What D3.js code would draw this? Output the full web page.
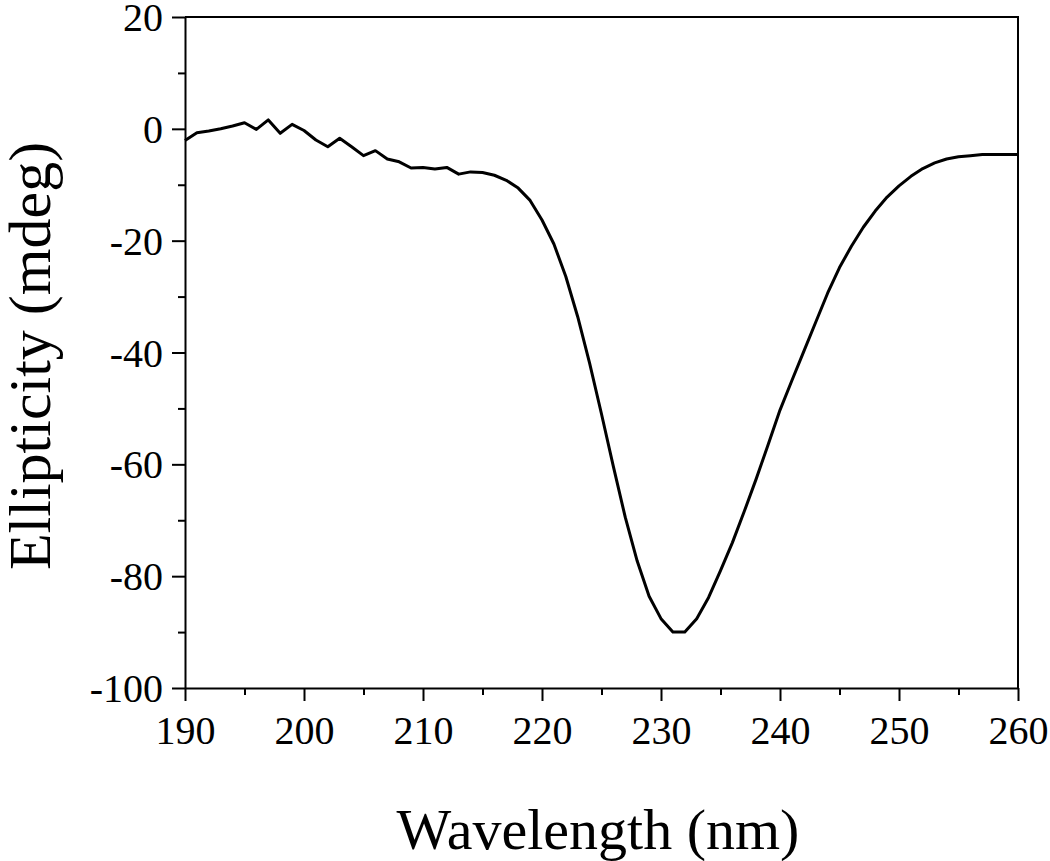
<!DOCTYPE html>
<html>
<head>
<meta charset="utf-8">
<script src="https://cdn.jsdelivr.net/npm/d3@7"></script>
<style>
  body { margin: 0; background: #fff; }
  svg text { font-family: "Liberation Serif", "Times New Roman", serif; fill: #000; }
</style>
</head>
<body>
<div id="chartHolder"></div>
<script>
// CD spectrum (1 nm steps)
const wavelength = [
  190, 191, 192, 193, 194, 195, 196, 197, 198, 199,
  200, 201, 202, 203, 204, 205, 206, 207, 208, 209,
  210, 211, 212, 213, 214, 215, 216, 217, 218, 219,
  220, 221, 222, 223, 224, 225, 226, 227, 228, 229,
  230, 231, 232, 233, 234, 235, 236, 237, 238, 239,
  240, 241, 242, 243, 244, 245, 246, 247, 248, 249,
  250, 251, 252, 253, 254, 255, 256, 257, 258, 259, 260
];
const ellipticity = [
  -2.1, -0.7, -0.4, 0.0, 0.5, 1.1, -0.1, 1.6, -0.8, 0.8,
  -0.3, -2.0, -3.2, -1.7, -3.2, -4.8, -3.9, -5.4, -5.9, -7.0,
  -6.9, -7.2, -6.9, -8.1, -7.7, -7.8, -8.3, -9.2, -10.6, -12.8,
  -16.3, -20.6, -26.4, -33.6, -41.9, -51.0, -60.4, -69.5, -77.3, -83.6,
  -87.6, -90.0, -90.0, -87.6, -83.8, -79.0, -74.0, -68.4, -62.6, -56.5,
  -50.3, -45.0, -39.8, -34.6, -29.4, -24.8, -21.0, -17.6, -14.7, -12.2,
  -10.2, -8.5, -7.1, -6.1, -5.4, -5.0, -4.8, -4.6, -4.6, -4.6, -4.6
];
const xTicks = [190, 200, 210, 220, 230, 240, 250, 260];
const yTicks = [20, 0, -20, -40, -60, -80, -100];

const data = wavelength.map((w, i) => ({ w: w, v: ellipticity[i] }));

const W = 1050, H = 861;
const padL = 185, padR = 1018, padT = 17, padB = 688;

const x = d3.scaleLinear().domain([190, 260]).range([padL, padR]);
const y = d3.scaleLinear().domain([-100, 20]).range([padB, padT]);

const svg = d3.select("#chartHolder").append("svg")
  .attr("width", W)
  .attr("height", H);

// frame (top + right)
svg.append("path")
  .attr("d", `M${padL},${padT}H${padR}V${padB}`)
  .attr("fill", "none")
  .attr("stroke", "#000")
  .attr("stroke-width", 2);

// minor ticks
const xMinor = d3.range(195, 260, 10);
const yMinor = d3.range(-90, 20, 20);

const xAxis = svg.append("g")
  .attr("transform", "translate(0," + padB + ")")
  .call(d3.axisBottom(x).tickValues(xTicks).tickFormat(d => String(d)).tickSize(13).tickSizeOuter(0).tickPadding(12));
svg.append("g")
  .attr("transform", "translate(0," + padB + ")")
  .call(d3.axisBottom(x).tickValues(xMinor).tickFormat("").tickSize(7).tickSizeOuter(0))
  .select(".domain").remove();

const yAxis = svg.append("g")
  .attr("transform", "translate(" + padL + ",0)")
  .call(d3.axisLeft(y).tickValues(yTicks).tickFormat(d => String(d)).tickSize(13).tickSizeOuter(0).tickPadding(9));
svg.append("g")
  .attr("transform", "translate(" + padL + ",0)")
  .call(d3.axisLeft(y).tickValues(yMinor).tickFormat("").tickSize(7).tickSizeOuter(0))
  .select(".domain").remove();

svg.selectAll("g").attr("font-size", null).attr("font-family", null);
svg.selectAll(".domain, .tick line")
  .attr("stroke", "#000")
  .attr("stroke-width", 2);
svg.selectAll(".tick text")
  .style("font-size", "40px");
xAxis.selectAll(".tick text").attr("dy", "0.78em");
yAxis.selectAll(".tick text").attr("dy", "0.34em");

// curve
svg.append("path")
  .datum(data)
  .attr("fill", "none")
  .attr("stroke", "#000")
  .attr("stroke-width", 3)
  .attr("stroke-linejoin", "round")
  .attr("d", d3.line().x(d => x(d.w)).y(d => y(d.v)));

// axis titles
svg.append("text")
  .attr("text-anchor", "middle")
  .attr("x", 598)
  .attr("y", 849)
  .style("font-size", "58px")
  .text("Wavelength (nm)");
svg.append("text")
  .attr("text-anchor", "middle")
  .attr("transform", "translate(50,356)rotate(-90)")
  .style("font-size", "60px")
  .text("Ellipticity (mdeg)");
</script>
</body>
</html>
